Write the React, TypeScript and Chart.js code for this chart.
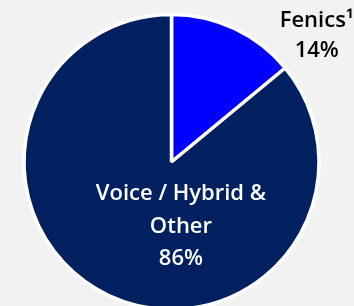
import { useEffect, useRef } from "react";
import { Chart, registerables } from "chart.js";

Chart.register(...registerables);

const categories = ["Fenics¹", "Voice / Hybrid & Other"];
const shares = [14, 86];
const sliceColors = ["#0000ff", "#002060"];
const labelLines = [
  ["Fenics¹", "14%"],
  ["Voice / Hybrid &", "Other", "86%"],
];
const labelColors = ["#000000", "#ffffff"];

export default function App() {
  const ref = useRef<HTMLCanvasElement>(null);

  useEffect(() => {
    if (!ref.current) return;
    // label anchor offsets relative to pie centre, in units of the radius
    const anchors = [
      { dx: 0.985, dy: -0.915, step: 0.205 },
      { dx: 0.064, dy: 0.258, step: 0.22 },
    ];
    const labelPlugin = {
      id: "sliceLabels",
      afterDatasetsDraw(chart: any) {
        const meta = chart.getDatasetMeta(0);
        const ctx = chart.ctx;
        ctx.save();
        ctx.font = '600 22px "Open Sans", sans-serif';
        ctx.textAlign = "center";
        ctx.textBaseline = "alphabetic";
        meta.data.forEach((arc: any, i: number) => {
          const { x, y, outerRadius } = arc.getProps(["x", "y", "outerRadius"], true);
          const a = anchors[i];
          ctx.fillStyle = labelColors[i];
          labelLines[i].forEach((line, j) => {
            ctx.fillText(line, x + a.dx * outerRadius, y + (a.dy + j * a.step) * outerRadius);
          });
        });
        ctx.restore();
      },
    };
    const chart = new Chart(ref.current, {
      type: "pie",
      data: {
        labels: categories,
        datasets: [
          {
            data: shares,
            backgroundColor: sliceColors,
            borderColor: "#ffffff",
            borderWidth: 3.5,
          },
        ],
      },
      options: {
        responsive: false,
        animation: false,
        devicePixelRatio: 1,
        radius: 147.5,
        layout: { padding: { left: 0, right: 11, top: 0, bottom: 0 } },
        plugins: {
          legend: { display: false },
          tooltip: { enabled: false },
        },
      },
      plugins: [labelPlugin],
    });
    return () => chart.destroy();
  }, []);

  return (
    <div
      style={{
        position: "fixed",
        left: 0,
        top: 0,
        width: 354,
        height: 306,
        overflow: "hidden",
        background: "#f2f2f2",
      }}
    >
      <canvas ref={ref} width={354} height={324} style={{ display: "block" }} />
    </div>
  );
}
